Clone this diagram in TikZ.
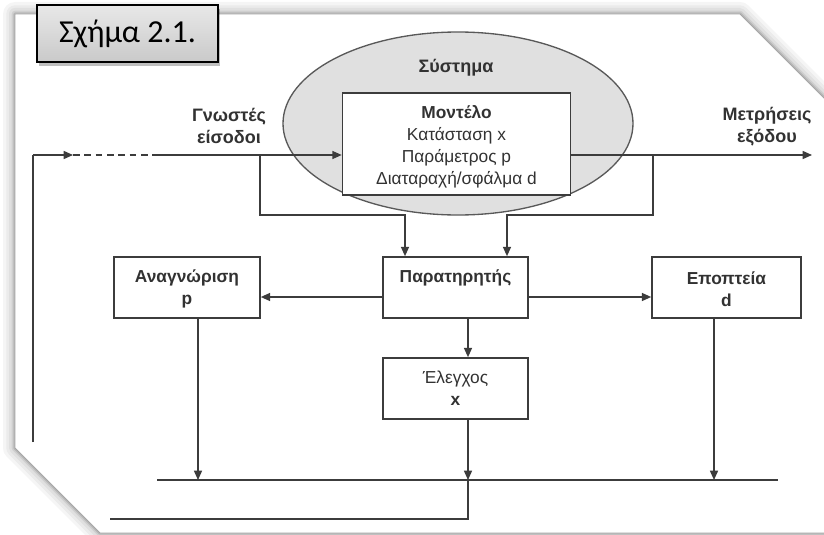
\documentclass[tikz,border=0pt]{standalone}
\usepackage{fontspec}
\setmainfont{Liberation Sans}
\newfontfamily\captfont{Carlito}
\usetikzlibrary{arrows.meta,shadows}

\definecolor{linegray}{RGB}{60,60,60}
\definecolor{ellgray}{RGB}{224,224,224}
\definecolor{textgray}{RGB}{50,50,50}
\newcommand{\topgap}{\rule{0pt}{14.5pt}}

\tikzset{
  blockbox/.style={draw=linegray, line width=1.2pt, fill=white, align=center, inner sep=0pt,
    text=textgray, font=\fontsize{13}{16.5}\selectfont},
  lbltxt/.style={align=center, inner sep=0pt, text=textgray, font=\bfseries\fontsize{13.5}{16.5}\selectfont},
  ln/.style={draw=linegray, line width=1.1pt},
  arr/.style={ln, -{Triangle[length=7pt,width=6pt]}},
}

\begin{document}
\begin{tikzpicture}[x=0.75pt,y=0.75pt,yscale=-1,xscale=1]
\useasboundingbox (0,0) rectangle (824,535);
\clip (0,0) rectangle (824,535);

%Shape: Frame with soft shadow
\foreach \w/\c in {18/4,13/8,9/12,5/19,2.5/28}
  \draw[line width=\w pt, black!\c, line join=round] (15,14) -- (740,14) -- (840,114) -- (840,533) -- (100,533) -- (15,448) -- cycle;
\fill[white] (15,14) -- (740,14) -- (840,114) -- (840,533) -- (100,533) -- (15,448) -- cycle;
\draw[black!35, line width=0.6pt] (15,14) -- (740,14) -- (840,114) -- (840,533) -- (100,533) -- (15,448) -- cycle;

%Shape: Ellipse
\draw[draw=black!65, fill=ellgray, line width=1pt] (458,123.5) ellipse (175 and 91.5);

% Text Node
\node[draw=black, line width=1.2pt, top color=gray!18, bottom color=gray!42,
  drop shadow={shadow xshift=1.5pt, shadow yshift=-3pt, fill=black, opacity=0.25},
  minimum width=135.75pt, minimum height=42.75pt, inner sep=0pt,
  font=\captfont\fontsize{24}{28}\selectfont] (figlbl) at (127.5,33.5) {Σχήμα 2.1.};
% Text Node
\node[lbltxt] (systxt) at (456,68) {Σύστημα};
% Text Node
\node[lbltxt] (intxt) at (229,126) {Γνωστές\\είσοδοι};
% Text Node
\node[lbltxt] (outtxt) at (767,127) {Μετρήσεις\\εξόδου};

%Shape: Rectangle
\node[blockbox, minimum width=171pt, minimum height=76.5pt] (model) at (456.5,144)
  {\topgap\textbf{Μοντέλο}\\Κατάσταση x\\Παράμετρος p\\Διαταραχή/σφάλμα d};
%Shape: Rectangle
\node[blockbox, minimum width=108.75pt, minimum height=45.75pt] (obs) at (455.5,287.5)
  {\textbf{Παρατηρητής}\\\mbox{}};
%Shape: Rectangle
\node[blockbox, minimum width=109.5pt, minimum height=45.75pt] (ident) at (187,287.5)
  {\rule{0pt}{12pt}\textbf{Αναγνώριση}\\\textbf{p}};
%Shape: Rectangle
\node[blockbox, minimum width=111.75pt, minimum height=45.75pt] (superv) at (726.5,287.5)
  {\rule{0pt}{12pt}\textbf{Εποπτεία}\\\textbf{d}};
%Shape: Rectangle
\node[blockbox, minimum width=108.75pt, minimum height=45.75pt] (ctrl) at (455.5,388.5)
  {Έλεγχος\\\textbf{x}};

% Coordinates
\coordinate (inL) at (33,155);
\coordinate (fbT) at (33,442);
\coordinate (dashS) at (73,155);
\coordinate (dashE) at (155,155);
\coordinate (inBr) at (260,155);
\coordinate (inDn) at (260,215);
\coordinate (colA) at (405,0);
\coordinate (colB) at (507,0);
\coordinate (outBr) at (653,155);
\coordinate (outDn) at (653,215);
\coordinate (outE) at (812,155);
\coordinate (row) at (0,297);
\coordinate (colI) at (198,0);
\coordinate (colC) at (468,0);
\coordinate (colS) at (714,0);
\coordinate (busL) at (157,480);
\coordinate (busR) at (778,480);
\coordinate (fbB) at (110,519);

%Straight Lines
\draw[ln] (fbT) -- (inL);
\draw[arr] (inL) -- (dashS);
\draw[ln, dash pattern=on 5pt off 3.5pt] (dashS) -- (dashE);
\draw[arr] (dashE) -- (dashE -| model.west);
\draw[arr] (inBr) -- (inDn) -| (obs.north -| colA);
\draw[arr] (model.east |- outE) -- (outE);
\draw[arr] (outBr) -- (outDn) -| (obs.north -| colB);
\draw[arr] (obs.west |- row) -- (ident.east |- row);
\draw[arr] (obs.east |- row) -- (superv.west |- row);
\draw[arr] (obs.south -| colC) -- (ctrl.north -| colC);
\draw[ln] (busL) -- (busR);
\draw[arr] (ident.south -| colI) -- (busL -| colI);
\draw[arr] (ctrl.south -| colC) -- (busL -| colC);
\draw[arr] (superv.south -| colS) -- (busL -| colS);
\draw[ln] (busL -| colC) -- (fbB -| colC) -- (fbB);

\end{tikzpicture}
\end{document}
